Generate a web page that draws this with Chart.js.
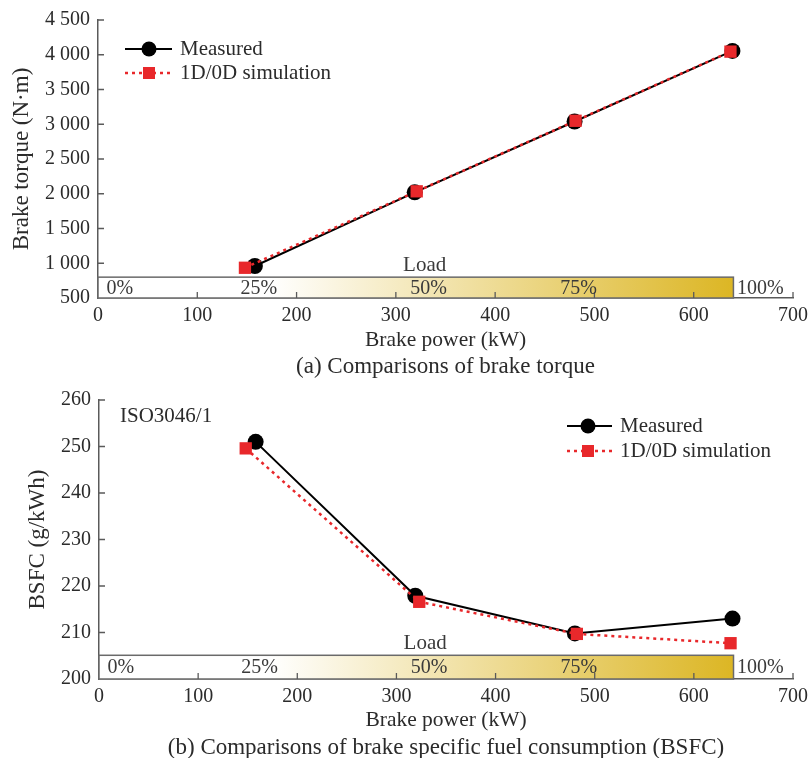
<!DOCTYPE html>
<html>
<head>
<meta charset="utf-8">
<script src="https://cdn.jsdelivr.net/npm/chart.js@4.4.0/dist/chart.umd.min.js"></script>
<style>
  body { margin: 0; background: #fff; }
  .box { position: relative; width: 810px; }
</style>
</head>
<body>
<div class="box" style="height:380px"><canvas id="torque"></canvas></div>
<div class="box" style="height:378px"><canvas id="bsfc"></canvas></div>
<script>
// (a) brake torque
const torquePowerMeasured = [158, 319, 480, 639];
const torqueMeasured      = [960, 2020, 3040, 4055];
const torquePowerSim      = [148, 321, 481, 637];
const torqueSim           = [935, 2035, 3050, 4045];
// (b) BSFC
const bsfcPowerMeasured = [158, 319, 480, 639];
const bsfcMeasured      = [251.0, 217.9, 209.8, 213.0];
const bsfcPowerSim      = [148, 323, 482, 637];
const bsfcSim           = [249.6, 216.6, 209.7, 207.7];
// load band
const loadLabels = ['0%', '25%', '50%', '75%', '100%'];
const loadLabelX = [22, 162, 333, 484, 667];
const seriesNames = ['Measured', '1D/0D simulation'];

const FONT = '"Liberation Serif", "DejaVu Serif", serif';
const TEXT = '#2b2b2b';
const AXIS = '#5a5a5a';
const RED = '#e8282b';
Chart.defaults.font.family = FONT;
Chart.defaults.color = TEXT;

const pts = (xs, ys) => xs.map((v, i) => ({ x: v, y: ys[i] }));
const sep = v => v >= 1000 ? String(v).replace(/(\d)(\d{3})$/, '$1 $2') : String(v);

function decor(cfg) {
  return {
    id: 'decor',
    beforeDatasetsDraw(chart) {
      const { ctx, chartArea: a, scales: { x, y } } = chart;
      const x0 = x.getPixelForValue(0), x1 = x.getPixelForValue(cfg.bandEnd);
      const yb = y.getPixelForValue(y.min), yt = y.getPixelForValue(cfg.bandTop);
      ctx.save();
      const g = ctx.createLinearGradient(x0, 0, x1, 0);
      g.addColorStop(0, '#ffffff'); g.addColorStop(0.27, '#ffffff'); g.addColorStop(1, '#dcb624');
      ctx.fillStyle = g; ctx.fillRect(x0, yt, x1 - x0, yb - yt);
      ctx.strokeStyle = '#6a6a6a'; ctx.lineWidth = 1.5; ctx.strokeRect(x0, yt, x1 - x0, yb - yt);
      // inward ticks
      ctx.strokeStyle = AXIS; ctx.lineWidth = 1.3;
      ctx.beginPath();
      x.ticks.forEach(t => { if (t.value === x.min) return; const p = x.getPixelForValue(t.value); ctx.moveTo(p, a.bottom); ctx.lineTo(p, a.bottom - 6); });
      y.ticks.forEach(t => { if (t.value === y.min) return; const p = y.getPixelForValue(t.value); ctx.moveTo(a.left, p); ctx.lineTo(a.left + 6, p); });
      ctx.stroke();
      ctx.fillStyle = '#3a3a3a'; ctx.font = '20px ' + FONT;
      ctx.textAlign = 'center'; ctx.textBaseline = 'middle';
      loadLabels.forEach((s, i) => ctx.fillText(s, x.getPixelForValue(loadLabelX[i]), (yb + yt) / 2 + 1));
      ctx.font = '21px ' + FONT;
      ctx.fillText('Load', x.getPixelForValue(cfg.loadX), yt - 12);
      ctx.restore();
    },
    afterDraw(chart) {
      const { ctx, chartArea: a } = chart;
      const L = cfg.legend;
      ctx.save();
      ctx.textBaseline = 'middle'; ctx.textAlign = 'left';
      // measured row
      ctx.strokeStyle = '#000'; ctx.lineWidth = 2; ctx.setLineDash([]);
      ctx.beginPath(); ctx.moveTo(L.x0, L.y0); ctx.lineTo(L.x1, L.y0); ctx.stroke();
      ctx.fillStyle = '#000'; ctx.beginPath(); ctx.arc(L.xm, L.y0, 7.5, 0, Math.PI * 2); ctx.fill();
      // sim row
      ctx.strokeStyle = RED; ctx.lineWidth = 2.5; ctx.setLineDash([3, 4]);
      ctx.beginPath(); ctx.moveTo(L.x0, L.y1); ctx.lineTo(L.x1, L.y1); ctx.stroke();
      ctx.setLineDash([]);
      ctx.fillStyle = RED; ctx.fillRect(L.xm - 6, L.y1 - 6, 12, 12);
      ctx.fillStyle = TEXT; ctx.font = '21px ' + FONT;
      ctx.fillText(seriesNames[0], L.xt, L.y0);
      ctx.fillText(seriesNames[1], L.xt, L.y1);
      if (cfg.note) ctx.fillText(cfg.note.text, cfg.note.x, cfg.note.y);
      // caption, centred under the plot area
      ctx.textAlign = 'center'; ctx.font = '23px ' + FONT;
      ctx.fillText(cfg.caption, (a.left + a.right) / 2, cfg.captionY);
      ctx.restore();
    }
  };
}

function makeChart(id, c) {
  return new Chart(document.getElementById(id), {
    type: 'scatter',
    data: {
      datasets: [
        { label: seriesNames[1], data: pts(c.simX, c.simY), showLine: true, order: 0,
          borderColor: RED, borderWidth: 2.5, borderDash: [3, 4], backgroundColor: RED,
          pointStyle: 'rect', pointRadius: 8.7, pointBorderWidth: 0, pointHoverRadius: 8.7 },
        { label: seriesNames[0], data: pts(c.measX, c.measY), showLine: true, order: 1,
          borderColor: '#000', borderWidth: 2, backgroundColor: '#000',
          pointStyle: 'circle', pointRadius: 8, pointBorderWidth: 0, pointHoverRadius: 8 }
      ]
    },
    options: {
      responsive: true, maintainAspectRatio: false, animation: false,
      layout: { padding: { top: c.padTop, right: 17, left: 0, bottom: c.padBottom } },
      plugins: { legend: { display: false }, tooltip: { enabled: false } },
      scales: {
        x: {
          type: 'linear', min: 0, max: 700,
          ticks: { stepSize: 100, padding: 6, font: { size: 20, lineHeight: 1.2 }, color: TEXT, maxRotation: 0 },
          grid: { drawOnChartArea: false, drawTicks: false },
          border: { color: AXIS, width: 1.5 },
          title: { display: true, text: 'Brake power (kW)', font: { size: 21.5, lineHeight: 1.2 }, color: TEXT,
            padding: { top: 0, bottom: 1 } },
          afterFit: s => { s.height = c.xHeight; s.paddingRight = 0; s.paddingLeft = 0; }
        },
        y: {
          type: 'linear', min: c.yMin, max: c.yMax,
          ticks: { stepSize: c.yStep, padding: 8, font: { size: 20, lineHeight: 1.2 }, color: TEXT, callback: v => sep(v) },
          grid: { drawOnChartArea: false, drawTicks: false },
          border: { color: AXIS, width: 1.5 },
          title: { display: true, text: c.yTitle, font: { size: 23, lineHeight: 1.2 }, color: TEXT,
            padding: { top: c.yTitlePad, bottom: 0 } },
          afterFit: s => { s.width = c.yWidth; }
        }
      }
    },
    plugins: [decor(c.decor)]
  });
}

makeChart('torque', {
  measX: torquePowerMeasured, measY: torqueMeasured, simX: torquePowerSim, simY: torqueSim,
  yMin: 500, yMax: 4500, yStep: 500, yTitle: 'Brake torque (N\u00b7m)', yTitlePad: 8, yWidth: 98,
  padTop: 19, padBottom: 26, xHeight: 56,
  decor: { bandEnd: 640, bandTop: 800, loadX: 329, caption: '(a) Comparisons of brake torque', captionY: 367,
    legend: { x0: 125, x1: 172, xm: 149, xt: 180, y0: 49, y1: 73 } }
});

makeChart('bsfc', {
  measX: bsfcPowerMeasured, measY: bsfcMeasured, simX: bsfcPowerSim, simY: bsfcSim,
  yMin: 200, yMax: 260, yStep: 10, yTitle: 'BSFC (g/kWh)', yTitlePad: 24, yWidth: 99,
  padTop: 20, padBottom: 24, xHeight: 55,
  decor: { bandEnd: 640, bandTop: 205.1, loadX: 329,
    caption: '(b) Comparisons of brake specific fuel consumption (BSFC)', captionY: 368,
    legend: { x0: 567, x1: 612, xm: 588, xt: 620, y0: 46, y1: 71 },
    note: { text: 'ISO3046/1', x: 120, y: 36 } }
});
</script>
</body>
</html>
